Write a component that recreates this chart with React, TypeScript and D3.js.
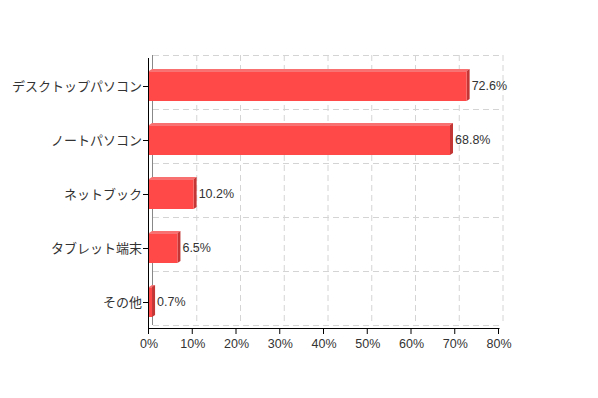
import React from "react";
import * as d3 from "d3";

const categories = ["デスクトップパソコン", "ノートパソコン", "ネットブック", "タブレット端末", "その他"];
const values = [72.6, 68.8, 10.2, 6.5, 0.7];
const xTicks = [0, 10, 20, 30, 40, 50, 60, 70, 80];

const W = 598, H = 398;
const left = 149, right = 499, top = 58, bottom = 328;
const DX = 4, DY = -3;
const BDX = 3, BDY = -2;

export default function App() {
  const x = d3.scaleLinear().domain([0, 80]).range([left, right]);
  const y = d3.scaleBand().domain(categories).range([top, bottom]).paddingInner(0).paddingOuter(0);
  const bw = 30;
  const jp = "'Noto Sans CJK JP', 'Noto Sans', sans-serif";
  const lat = "'Liberation Sans', Arial, sans-serif";
  return (
    <svg width={W} height={H} style={{ position: "absolute", left: 0, top: 0, background: "#fff" }}>
      {xTicks.slice(1).map((t) => (
        <line key={"gv" + t} x1={x(t) + DX} x2={x(t) + DX} y1={top + DY} y2={bottom + DY}
          stroke="#d4d4d4" strokeDasharray="6,4" />
      ))}
      {d3.range(0, categories.length + 1).map((i) => {
        const yy = top + i * y.bandwidth() + DY + 0.5;
        return (
          <line key={"gh" + i} x1={left + DX} x2={right + DX} y1={yy} y2={yy}
            stroke="#d4d4d4" strokeDasharray="6,4" />
        );
      })}
      <line x1={left + DX - 0.5} x2={left + DX - 0.5} y1={top + DY} y2={bottom + DY} stroke="#888" />
      {categories.map((c, i) => {
        const cy = (y(c) as number) + y.bandwidth() / 2 + 1;
        const y0 = cy - bw / 2, y1 = cy + bw / 2;
        const x0 = x(0), x1 = x(values[i]);
        return (
          <g key={c}>
            <polygon points={`${x0},${y0} ${x1},${y0} ${x1 + BDX},${y0 + BDY} ${x0 + BDX},${y0 + BDY}`} fill="#f87070" />
            <polygon points={`${x1},${y0} ${x1 + BDX},${y0 + BDY} ${x1 + BDX},${y1 + BDY} ${x1},${y1}`} fill="#c43535" />
            <rect x={x0} y={y0} width={x1 - x0} height={y1 - y0} fill="#ff4848" />
            <line x1={x0} x2={x1} y1={y0 + 0.5} y2={y0 + 0.5} stroke="#f87474" />
            <text x={x1 + BDX + 2} y={cy + 1} dominantBaseline="middle" fontFamily={lat} fontSize={12.5} fill="#333">
              {values[i].toFixed(1)}%
            </text>
          </g>
        );
      })}
      <line x1={left - 0.5} x2={left - 0.5} y1={top} y2={bottom + 1} stroke="#000" />
      <line x1={left - 0.5} x2={right + 0.5} y1={bottom + 0.5} y2={bottom + 0.5} stroke="#000" />
      {categories.map((c) => {
        const cy = (y(c) as number) + y.bandwidth() / 2 + 1;
        return (
          <g key={"yl" + c}>
            <line x1={left - 6} x2={left} y1={cy + 0.5} y2={cy + 0.5} stroke="#000" />
            <text x={left - 7} y={cy + 1} textAnchor="end" dominantBaseline="middle" fontFamily={jp} fontSize={13} fill="#333">
              {c}
            </text>
          </g>
        );
      })}
      {xTicks.map((t) => (
        <g key={"xt" + t}>
          <line x1={x(t) - 0.5} x2={x(t) - 0.5} y1={bottom} y2={bottom + 6} stroke="#000" />
          <text x={x(t)} y={bottom + 17} textAnchor="middle" dominantBaseline="middle" fontFamily={lat} fontSize={12.5} fill="#333">
            {t}%
          </text>
        </g>
      ))}
    </svg>
  );
}
